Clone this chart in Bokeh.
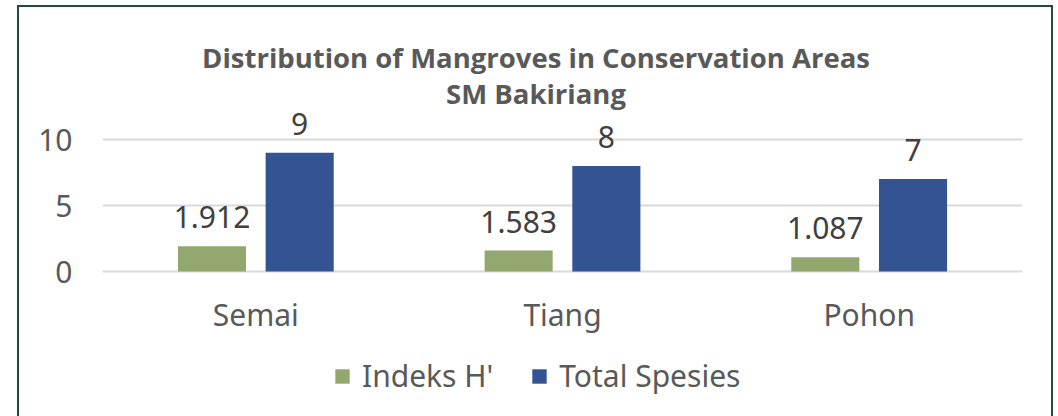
from bokeh.plotting import figure
from bokeh.models import (ColumnDataSource, FactorRange, FixedTicker, LabelSet,
                          Label, Legend, LegendItem)
from bokeh.core.properties import value
from bokeh.transform import dodge
from bokeh.embed import file_html
from bokeh.resources import INLINE

title_lines = ["Distribution of Mangroves in Conservation Areas", "SM Bakiriang"]
categories = ["Semai", "Tiang", "Pohon"]
indeks_h = [1.912, 1.583, 1.087]
total_spesies = [9, 8, 7]
indeks_labels = ["1.912", "1.583", "1.087"]
total_labels = ["9", "8", "7"]
y_ticks = [0, 5, 10]

GREEN = "#92A86F"
BLUE = "#335393"
TXT = "#595959"
VAL = "#404040"
FONT = "Noto Sans"
BORDER = "#1E4D3B"
PX_PER_UNIT = 13.2
Y0_PX = 271          # pixel row of value 0
H = 416

src = ColumnDataSource(dict(cat=categories, ih=indeks_h, ts=total_spesies,
                            ihl=indeks_labels, tsl=total_labels))

css_border = {
    "background-color": "white",
    "background-image": ", ".join([f"linear-gradient({BORDER}, {BORDER})"] * 3),
    "background-size": "1036px 2px, 2px 500px, 2px 500px",
    "background-position": "17px 5px, 17px 5px, 1051px 5px",
    "background-repeat": "no-repeat",
}

p = figure(width=1058, height=H, x_range=FactorRange(*categories),
           y_range=(-(H - Y0_PX) / PX_PER_UNIT, Y0_PX / PX_PER_UNIT),
           output_backend="svg", toolbar_location=None, x_axis_location=None,
           min_border_left=102, min_border_right=36, min_border_top=0,
           min_border_bottom=0, styles=css_border)
p.outline_line_color = None
p.background_fill_alpha = 0
p.border_fill_alpha = 0

g = p.vbar(x=dodge("cat", -0.143, range=p.x_range), top="ih", width=0.222,
           source=src, fill_color=GREEN, line_color=None)
b = p.vbar(x=dodge("cat", 0.143, range=p.x_range), top="ts", width=0.222,
           source=src, fill_color=BLUE, line_color=None)

for xo, col, lab in [(-0.143, "ih", "ihl"), (0.143, "ts", "tsl")]:
    p.add_layout(LabelSet(x=dodge("cat", xo, range=p.x_range), y=col, text=lab,
                          source=src, y_offset=18, text_align="center",
                          text_baseline="alphabetic", text_font_size=value("30px"),
                          text_font=value(FONT), text_color=VAL))

# category labels under the bars
p.add_layout(LabelSet(x="cat", y=0, text="cat", source=src, y_offset=-54,
                      text_align="center", text_baseline="alphabetic",
                      text_font_size=value("30px"), text_font=value(FONT),
                      text_color=TXT))

p.yaxis.ticker = FixedTicker(ticks=y_ticks)
p.ygrid.ticker = FixedTicker(ticks=y_ticks)
p.ygrid.grid_line_color = "#D9D9D9"
p.ygrid.grid_line_width = 2
p.xgrid.grid_line_color = None
p.yaxis.axis_line_color = None
p.yaxis.major_tick_line_color = None
p.yaxis.minor_tick_line_color = None
p.yaxis.major_tick_out = 0
p.yaxis.major_label_text_font = FONT
p.yaxis.major_label_text_font_size = "30px"
p.yaxis.major_label_text_color = TXT
p.yaxis.major_label_standoff = 30

# chart title (two centred lines)
title_x = 1.5 - 0.0864
for line, base_px in zip(title_lines, [57, 93]):
    p.add_layout(Label(x=title_x, y=(Y0_PX - base_px) / PX_PER_UNIT, text=line,
                       text_align="center", text_baseline="alphabetic",
                       text_font="Open Sans", text_font_size="27.5px",
                       text_font_style="bold", text_color=TXT))

legend = Legend(items=[LegendItem(label="Indeks H'", renderers=[g]),
                       LegendItem(label="Total Spesies", renderers=[b])],
                orientation="horizontal", location=(231, 20),
                label_text_font=FONT, label_text_font_size="30px",
                label_text_color=TXT, glyph_width=18, glyph_height=18,
                label_standoff=11, spacing=37, border_line_color=None,
                background_fill_alpha=0, margin=0, padding=0)
p.add_layout(legend)

open("out.html", "w").write(file_html(p, INLINE))
